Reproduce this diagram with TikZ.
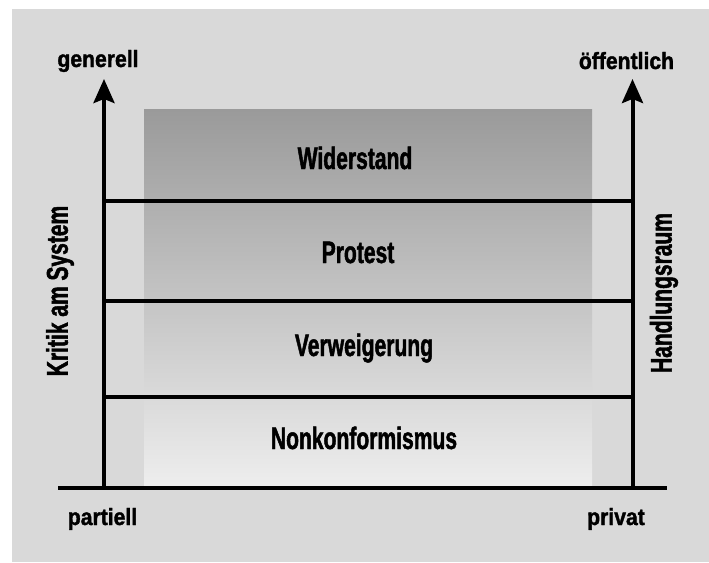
\documentclass[tikz,border=0pt]{standalone}
\usepackage{fontspec}
\setmainfont{Liberation Sans}
\newfontfamily\stagefont[FakeStretch=0.68, FakeBold=1.5, UprightFont={* Bold}]{Liberation Sans}
\newfontfamily\sidefont[FakeStretch=0.7, FakeBold=1.5, UprightFont={* Bold}]{Liberation Sans}
\newfontfamily\cornerfont[FakeStretch=0.9, FakeBold=1.5, UprightFont={* Bold}]{Liberation Sans}
\usetikzlibrary{arrows.meta, positioning, calc}
\definecolor{bggray}{RGB}{217,217,217}
\definecolor{shadetop}{RGB}{154,154,154}
\definecolor{shadebot}{RGB}{238,238,238}

\begin{document}
\begin{tikzpicture}[x=1pt, y=-1pt,
    axis/.style={line width=4pt, -{Stealth[length=24pt, width=21pt, inset=4pt]}},
    rule/.style={line width=4pt},
    stage/.style={font=\stagefont\fontsize{31}{31}\selectfont, anchor=base, inner sep=0pt},
    side/.style={font=\sidefont\fontsize{30}{30}\selectfont, rotate=90, inner sep=0pt},
    corner/.style={font=\cornerfont\fontsize{23.5}{23.5}\selectfont, anchor=base, inner sep=0pt}]
    \useasboundingbox (0,0) rectangle (709,562);
    \fill[white] (0,0) rectangle (709,562);
    \fill[bggray] (12,9) rectangle (709,562);
    \shade[top color=shadetop, bottom color=shadebot] (144,109) rectangle (592,488);

    % axes
    \coordinate (bl) at (58,488);
    \coordinate (br) at (667,488);
    \coordinate (lo) at (104,488);
    \coordinate (lt) at (104,79);
    \coordinate (ro) at (632.5,488);
    \coordinate (rt) at (632.5,79);
    \draw[rule] (bl) -- (br);
    \draw[axis] (lo) -- (lt);
    \draw[axis] (ro) -- (rt);

    % dividing lines
    \coordinate (l1) at (104,201);
    \coordinate (r1) at (632.5,201);
    \coordinate (l2) at (104,301);
    \coordinate (r2) at (632.5,301);
    \coordinate (l3) at (104,397);
    \coordinate (r3) at (632.5,397);
    \draw[rule] (l1) -- (r1);
    \draw[rule] (l2) -- (r2);
    \draw[rule] (l3) -- (r3);

    \node[stage] (widerstand) at (355,169) {Widerstand};
    \node[stage] (protest) at (358,263) {Protest};
    \node[stage] (verweigerung) at (364,356) {Verweigerung};
    \node[stage] (nonkonform) at (364,449) {Nonkonformismus};

    \node[corner] (generell) at (98,67) {generell};
    \node[corner] (oeffentlich) at (626.5,69) {öffentlich};
    \node[corner] (partiell) at (102.5,525) {partiell};
    \node[corner] (privat) at (616,525) {privat};

    \node[side] (kritik) at (60,291) {Kritik am System};
    \node[side] (handlung) at (664,293) {Handlungsraum};
\end{tikzpicture}
\end{document}
